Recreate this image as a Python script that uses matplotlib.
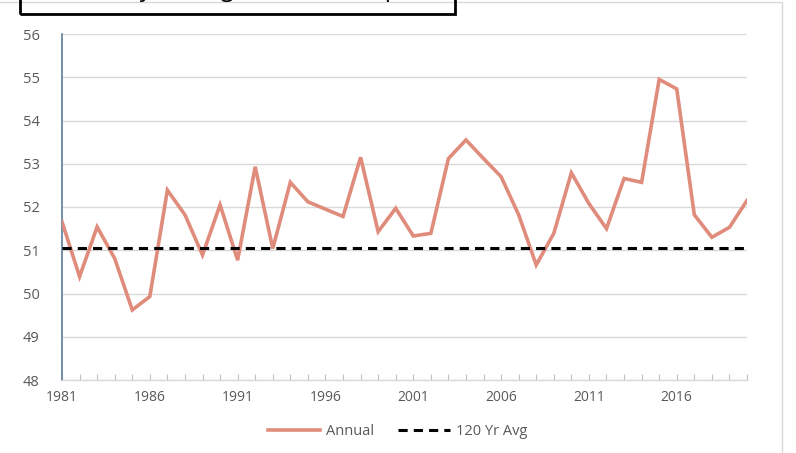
import matplotlib
matplotlib.use("Agg")
import matplotlib.pyplot as plt
from matplotlib.patches import Rectangle
import numpy as np

# ── Data ──────────────────────────────────────────────────────────────────────
years = np.arange(1981, 2021)
annual = [51.66, 50.39, 51.54, 50.81, 49.62, 49.93, 52.39, 51.82, 50.89, 52.05,
          50.77, 52.93, 51.04, 52.57, 52.12, 51.95, 51.78, 53.15, 51.43, 51.97,
          51.33, 51.39, 53.12, 53.55, 53.12, 52.70, 51.82, 50.66, 51.39, 52.79,
          52.08, 51.50, 52.66, 52.57, 54.95, 54.73, 51.82, 51.30, 51.53, 52.15]
avg_120yr = 51.05
xtick_years = [1981, 1986, 1991, 1996, 2001, 2006, 2011, 2016]
yticks = [48, 49, 50, 51, 52, 53, 54, 55, 56]
title = "Paducah, Ky Average Annual Temp (F)"

plt.rcParams['font.family'] = ['Open Sans', 'DejaVu Sans']
txt_color = "#595959"

W, H = 796, 453
fig = plt.figure(figsize=(W / 100, H / 100), dpi=100)
fig.patch.set_facecolor("white")

# chart border + title box cut off at the top edge
fig.add_artist(Rectangle((-5 / W, -10 / H), 787 / W, (H - 2 + 10) / H,
                         transform=fig.transFigure, fill=False,
                         edgecolor="#d9d9d9", linewidth=1.0))
fig.add_artist(Rectangle((20 / W, 1 - 13.5 / H), 435 / W, 30 / H,
                         transform=fig.transFigure, fill=False,
                         edgecolor="black", linewidth=2.0))
fig.text(225 / W, 1 + 4.5 / H, title, ha="center", va="baseline",
         fontsize=17, color="black")

ax = fig.add_axes([62 / W, 1 - 380 / H, 685 / W, 346 / H])
ax.set_facecolor("none")

ax.plot(years, annual, color="#e08c7c", linewidth=2.6, label="Annual",
        solid_joinstyle="miter", zorder=3)
ax.axhline(avg_120yr, color="black", linestyle=(0, (3, 2)), linewidth=2.2,
           label="120 Yr Avg", zorder=4)

ax.set_xlim(years[0], years[-1])
ax.set_ylim(48, 56)
ax.set_yticks(yticks)
ax.set_xticks(years)
ax.set_xticklabels([str(y) if y in xtick_years else "" for y in years])
ax.grid(axis="y", color="#d9d9d9", linewidth=1.0)
ax.set_axisbelow(True)

for s in ["top", "right"]:
    ax.spines[s].set_visible(False)
ax.spines["left"].set_color("#5b7b9a")
ax.spines["left"].set_linewidth(1.2)
ax.spines["bottom"].set_color("#d9d9d9")
ax.spines["bottom"].set_linewidth(1.0)

ax.tick_params(axis="x", direction="in", length=4, color="#bfbfbf",
               labelsize=10, labelcolor=txt_color, pad=7)
ax.tick_params(axis="y", length=0, labelsize=10.5, labelcolor=txt_color, pad=16)

ax.legend(loc="upper center", bbox_to_anchor=(0.49, -0.09), ncol=2,
          frameon=False, fontsize=10.5, labelcolor=txt_color,
          handlelength=3.6, columnspacing=1.6, handletextpad=0.4)

fig.savefig("out.png", dpi=100)
